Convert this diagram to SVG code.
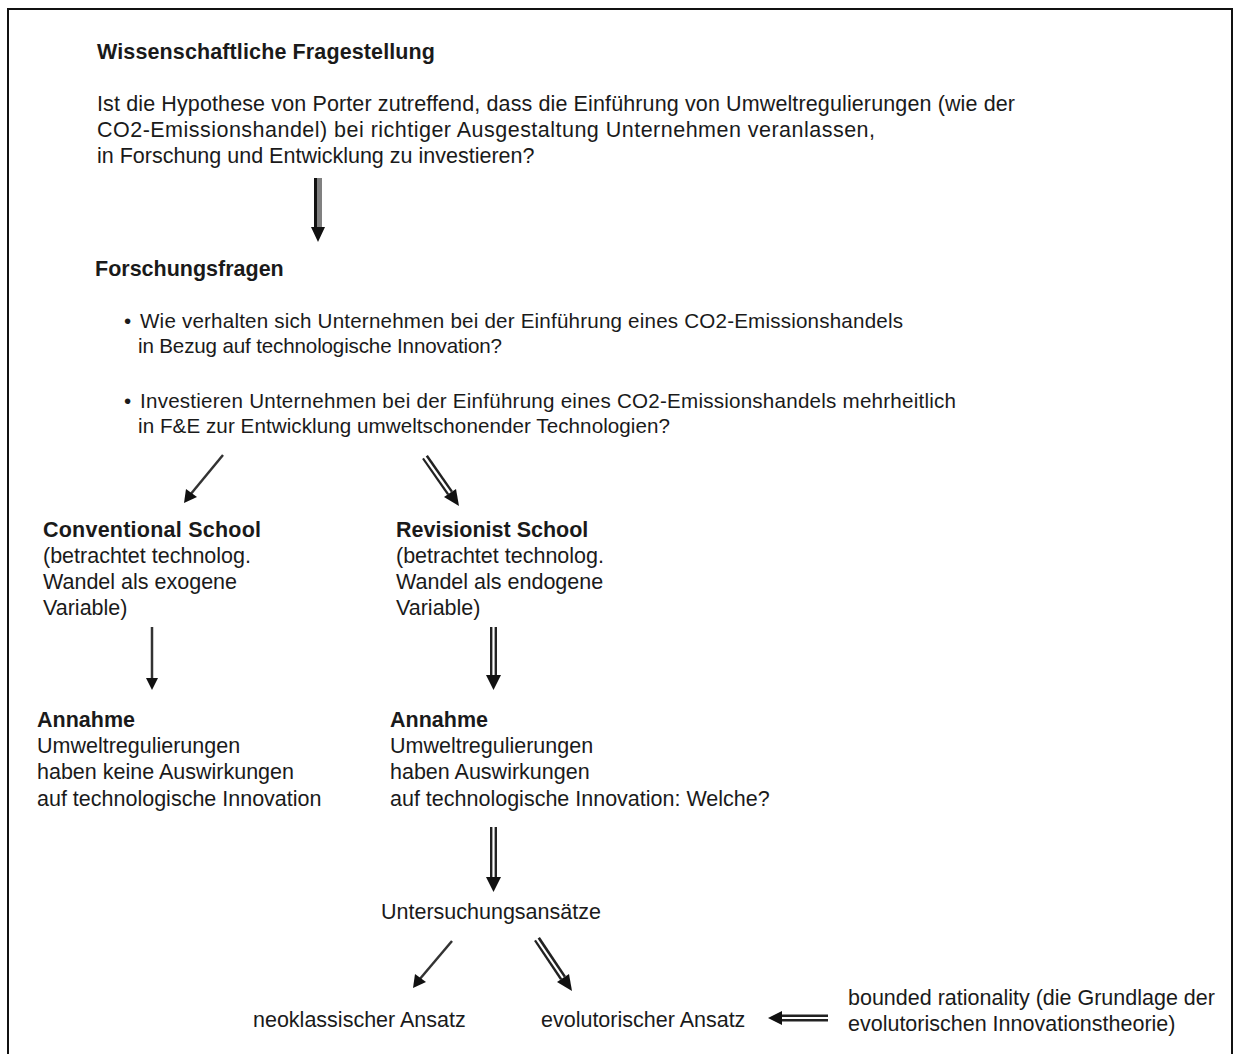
<svg xmlns="http://www.w3.org/2000/svg" width="1236" height="1059" viewBox="0 0 1236 1059">
<style>
text{font-family:"Liberation Sans",Arial,sans-serif;font-size:21.5px;fill:#1a1a1a}
.b{font-weight:bold}
.s{font-size:20.6px}
.single{stroke:#333;stroke-width:2.5;fill:none}
.dbl-o{stroke:#222;stroke-width:7;fill:none}
.dbl-i{stroke:#fff;stroke-width:2.2;fill:none}
.head{fill:#111}
</style>
<rect width="1236" height="1059" fill="#fff"/>
<path d="M8 1054 V9 H1232 V1054" fill="none" stroke="#111" stroke-width="2"/>

<g id="fragestellung">
<text class="b" x="97" y="59" textLength="338" lengthAdjust="spacing">Wissenschaftliche Fragestellung</text>
<text x="97" y="111" textLength="918" lengthAdjust="spacing">Ist die Hypothese von Porter zutreffend, dass die Einführung von Umweltregulierungen (wie der</text>
<text x="97" y="137" textLength="778" lengthAdjust="spacing">CO2-Emissionshandel) bei richtiger Ausgestaltung Unternehmen veranlassen,</text>
<text x="97" y="163">in Forschung und Entwicklung zu investieren?</text>
</g>

<g id="forschungsfragen">
<text class="b" x="95" y="276">Forschungsfragen</text>
<text class="s" x="124" y="328">•</text>
<text class="s" x="140" y="328" textLength="763" lengthAdjust="spacing">Wie verhalten sich Unternehmen bei der Einführung eines CO2-Emissionshandels</text>
<text class="s" x="138" y="353" textLength="364" lengthAdjust="spacing">in Bezug auf technologische Innovation?</text>
<text class="s" x="124" y="408">•</text>
<text class="s" x="140" y="408" textLength="816" lengthAdjust="spacing">Investieren Unternehmen bei der Einführung eines CO2-Emissionshandels mehrheitlich</text>
<text class="s" x="138" y="433" textLength="532" lengthAdjust="spacing">in F&amp;E zur Entwicklung umweltschonender Technologien?</text>
</g>

<g id="conventional">
<text class="b" x="43" y="537" textLength="218" lengthAdjust="spacing">Conventional School</text>
<text x="43" y="563">(betrachtet technolog.</text>
<text x="43" y="589">Wandel als exogene</text>
<text x="43" y="615">Variable)</text>
</g>

<g id="revisionist">
<text class="b" x="396" y="537">Revisionist School</text>
<text x="396" y="563">(betrachtet technolog.</text>
<text x="396" y="589">Wandel als endogene</text>
<text x="396" y="615">Variable)</text>
</g>

<g id="annahme-keine">
<text class="b" x="37" y="727">Annahme</text>
<text x="37" y="753">Umweltregulierungen</text>
<text x="37" y="779">haben keine Auswirkungen</text>
<text x="37" y="806">auf technologische Innovation</text>
</g>

<g id="annahme-welche">
<text class="b" x="390" y="727">Annahme</text>
<text x="390" y="753">Umweltregulierungen</text>
<text x="390" y="779">haben Auswirkungen</text>
<text x="390" y="806">auf technologische Innovation: Welche?</text>
</g>

<g id="untersuchungsansaetze">
<text x="381" y="919">Untersuchungsansätze</text>
</g>

<g id="neoklassisch">
<text x="253" y="1027">neoklassischer Ansatz</text>
</g>

<g id="evolutorisch">
<text x="541" y="1027">evolutorischer Ansatz</text>
</g>

<g id="bounded">
<text x="848" y="1005">bounded rationality (die Grundlage der</text>
<text x="848" y="1031">evolutorischen Innovationstheorie)</text>
</g>

<g id="connectors">
<rect x="314" y="178" width="8" height="50" fill="#808080"/>
<rect x="314" y="178" width="3" height="50" fill="#111"/>
<polygon class="head" points="311,227 325,227 318,242"/>

<line class="single" x1="223" y1="455" x2="190" y2="495"/>
<polygon class="head" points="184,503 186,489 197,497"/>

<line class="dbl-o" x1="425" y1="457" x2="450" y2="493"/>
<line class="dbl-i" x1="424" y1="456" x2="450" y2="493"/>
<polygon class="head" points="459,506 444,497 456,489"/>

<line class="single" x1="152" y1="627" x2="152" y2="679"/>
<polygon class="head" points="146,678 158,678 152,690"/>

<line class="dbl-o" x1="493.5" y1="627" x2="493.5" y2="677"/>
<line class="dbl-i" x1="493.5" y1="626" x2="493.5" y2="677"/>
<polygon class="head" points="486,675 501,675 493.5,690"/>

<line class="dbl-o" x1="493.5" y1="827" x2="493.5" y2="879"/>
<line class="dbl-i" x1="493.5" y1="826" x2="493.5" y2="879"/>
<polygon class="head" points="486,877 501,877 493.5,892"/>

<line class="single" x1="452" y1="941" x2="419" y2="980"/>
<polygon class="head" points="413,988 415,974 426,982"/>

<line class="dbl-o" x1="537" y1="939" x2="563" y2="978"/>
<line class="dbl-i" x1="536" y1="938" x2="563" y2="978"/>
<polygon class="head" points="572,991 557,982 569,974"/>

<line class="dbl-o" x1="828" y1="1018" x2="780" y2="1018"/>
<line class="dbl-i" x1="829" y1="1018" x2="780" y2="1018"/>
<polygon class="head" points="768,1018 782,1011 782,1025"/>
</g>
</svg>
